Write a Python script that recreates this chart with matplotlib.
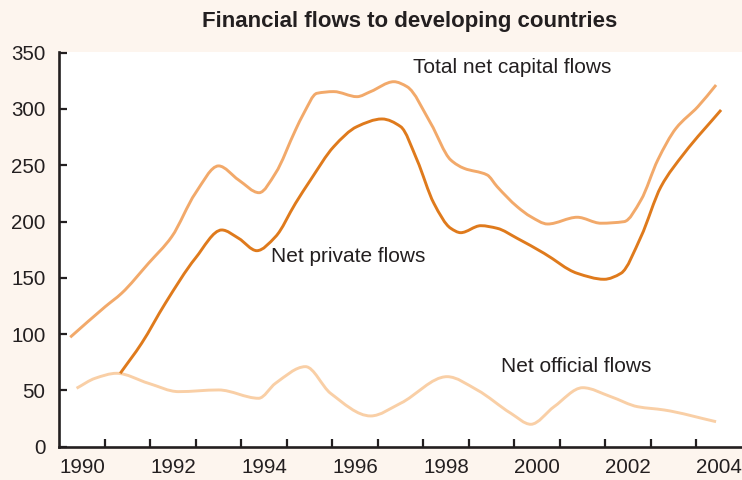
import numpy as np
import matplotlib
matplotlib.use("Agg")
import matplotlib.pyplot as plt
from matplotlib.path import Path
from matplotlib.patches import PathPatch

plt.rcParams['font.family'] = ['Liberation Sans', 'DejaVu Sans']

# values (US$ billions)
total_years = [1990.24, 1991.01, 1991.37, 1991.96, 1992.47, 1992.99, 1993.50, 1993.94,
               1994.39, 1994.75, 1995.19, 1995.37, 1995.66, 1996.03, 1996.54, 1996.84,
               1997.35, 1997.64, 1998.16, 1998.60, 1998.89, 1999.40, 1999.62, 2000.06,
               2000.36, 2000.73, 2001.38, 2001.90, 2002.41, 2002.78, 2003.15, 2003.55,
               2004.03, 2004.43]
total_flows = [97.2, 124.4, 136.3, 162.9, 186.5, 225.1, 249.4, 236.9,
               225.6, 242.9, 281.3, 296.0, 313.9, 315.4, 310.9, 315.4,
               324.2, 319.8, 287.3, 254.7, 247.3, 241.4, 231.0, 213.2,
               204.3, 197.8, 203.8, 198.5, 199.9, 219.1, 254.7, 282.8,
               302.0, 321.3]

private_years = [1991.34, 1991.81, 1992.33, 1992.99, 1993.57, 1993.94, 1994.34, 1994.75,
                 1995.19, 1995.52, 1996.03, 1996.54, 1997.09, 1997.50, 1997.86, 1998.23,
                 1998.60, 1998.82, 1999.26, 1999.62, 2000.06, 2000.65, 2001.38, 2001.97,
                 2002.34, 2002.78, 2003.22, 2003.73, 2004.54]
private_flows = [65.2, 91.9, 127.4, 167.4, 192.5, 185.1, 174.1, 186.5,
                 216.2, 236.9, 266.5, 284.3, 291.1, 284.3, 254.7, 216.2,
                 194.0, 190.1, 196.3, 194.0, 185.1, 171.8, 154.0, 148.7,
                 154.0, 186.5, 231.0, 260.6, 299.1]

official_years = [1990.38, 1990.79, 1991.26, 1991.96, 1992.62, 1993.50, 1994.38, 1994.75,
                  1995.41, 1995.96, 1996.84, 1997.50, 1998.52, 1999.18, 1999.92, 2000.36,
                  2000.87, 2001.50, 2002.12, 2002.71, 2003.29, 2004.43]
official_flows = [51.9, 60.8, 65.2, 56.3, 48.9, 50.4, 43.0, 56.3,
                  71.1, 47.4, 27.3, 38.6, 62.2, 50.4, 29.7, 19.9,
                  35.5, 52.4, 44.4, 35.5, 32.6, 22.2]

year_labels = ["1990", "1992", "1994", "1996", "1998", "2000", "2002", "2004"]
y_ticks = [0, 50, 100, 150, 200, 250, 300, 350]


def smooth_path(xs, ys):
    """ monotone (pchip-like) cubic through the points, drawn as bezier segments """
    x = np.asarray(xs, float)
    y = np.asarray(ys, float)
    n = len(x)
    h = np.diff(x)
    d = np.diff(y) / h
    m = np.zeros(n)
    for i in range(1, n - 1):
        if d[i - 1] * d[i] > 0:
            w1 = 2 * h[i] + h[i - 1]
            w2 = h[i] + 2 * h[i - 1]
            m[i] = (w1 + w2) / (w1 / d[i - 1] + w2 / d[i])
    m[0] = d[0]
    m[-1] = d[-1]
    verts = [(x[0], y[0])]
    codes = [Path.MOVETO]
    for i in range(n - 1):
        verts += [(x[i] + h[i] / 3, y[i] + m[i] * h[i] / 3),
                  (x[i + 1] - h[i] / 3, y[i + 1] - m[i + 1] * h[i] / 3),
                  (x[i + 1], y[i + 1])]
        codes += [Path.CURVE4] * 3
    return Path(verts, codes)


fig = plt.figure(figsize=(7.42, 4.8), dpi=100, facecolor="#fdf5ee")
ax = fig.add_axes([0.0799, 0.0694, 0.9201, 0.8223])
ax.set_facecolor("white")

series = [(official_years, official_flows, "#f9cfa6"),
          (total_years, total_flows, "#f2a96a"),
          (private_years, private_flows, "#df7a1c")]
for xs, ys, col in series:
    ax.add_patch(PathPatch(smooth_path(xs, ys), fill=False, edgecolor=col,
                           linewidth=2.1, capstyle="butt", joinstyle="round"))

ax.set_xlim(1990, 2005)
ax.set_ylim(0, 350.6)

# spines
for side in ["top", "right"]:
    ax.spines[side].set_visible(False)
for side in ["left", "bottom"]:
    ax.spines[side].set_linewidth(1.9)
    ax.spines[side].set_color("#231f20")

# ticks: year marks at boundaries, labels centred on the years
ax.set_xticks(np.arange(1991, 2005))
ax.set_xticklabels([])
ax.set_xticks([int(y) + 0.5 for y in year_labels], minor=True)
ax.set_xticklabels(year_labels, minor=True)
ax.tick_params(axis="x", which="major", direction="in", length=6, width=1.6, color="#231f20")
ax.tick_params(axis="x", which="minor", length=0, pad=8, labelsize=14.8, labelcolor="#231f20")

ax.set_yticks(y_ticks)
ax.set_yticklabels([str(v) for v in y_ticks])
ax.tick_params(axis="y", direction="in", length=6, width=1.6, color="#231f20",
               pad=10, labelsize=14.8, labelcolor="#231f20")

# series labels
ax.text(1997.78, 336.4, "Total net capital flows", fontsize=15, color="#231f20",
        ha="left", va="center")
ax.text(1994.66, 168.8, "Net private flows", fontsize=15, color="#231f20",
        ha="left", va="center")
ax.text(1999.70, 71.1, "Net official flows", fontsize=15, color="#231f20",
        ha="left", va="center")

fig.text(0.5526, 0.955, "Financial flows to developing countries", fontsize=16,
         fontweight="bold", color="#231f20", ha="center", va="center")

fig.savefig("out.png", dpi=100, facecolor=fig.get_facecolor())
